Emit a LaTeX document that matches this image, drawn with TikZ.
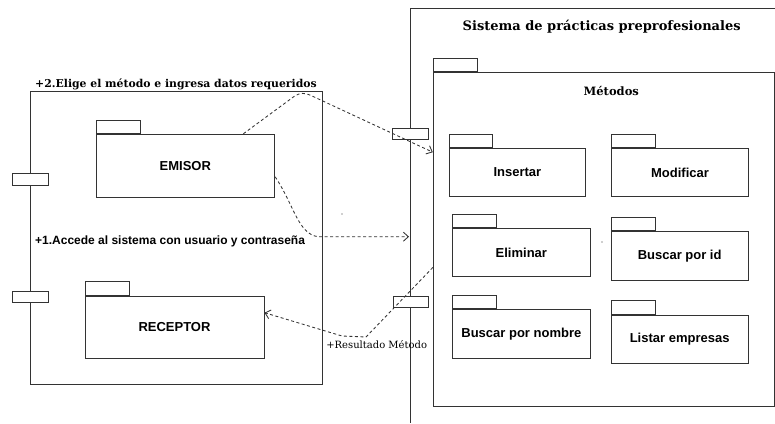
\documentclass[tikz,border=0pt]{standalone}
\usepackage{fontspec}
\setmainfont{Liberation Sans}
\newfontfamily\dserif{DejaVu Serif}
\usetikzlibrary{arrows.meta,calc}
\definecolor{linec}{HTML}{333333}
\tikzset{
  pkgbody/.style={draw=linec, line width=1pt, rectangle, inner sep=0pt, fill=white,
    font=\bfseries\fontsize{13}{15}\selectfont},
  pkgtab/.style={draw=linec, line width=1pt, rectangle, inner sep=0pt, fill=white,
    anchor=south west, minimum width=44pt, minimum height=12.8pt},
  sysbox/.style={draw=linec, line width=1pt, rectangle, inner sep=0pt},
  portbox/.style={draw=linec, line width=1pt, rectangle, inner sep=0pt, fill=white,
    minimum width=36pt, minimum height=11.5pt},
  dep/.style={draw=linec, line width=0.85pt, dash pattern=on 3pt off 2.5pt,
    -{Straight Barb[length=5pt,width=9pt,line width=0.85pt]}},
  serlabel/.style={inner sep=0pt, font=\dserif\bfseries\fontsize{10.85}{12}\selectfont},
  sanslabel/.style={inner sep=0pt, font=\bfseries\fontsize{12}{14}\selectfont},
}
\begin{document}
\begin{tikzpicture}[x=1pt,y=-1pt]
\useasboundingbox (0,0) rectangle (775,423);

% right system frame (cut by the picture edge)
\coordinate (rf1) at (775,8.3);
\coordinate (rf2) at (410,8.3);
\coordinate (rf3) at (410,423);
\draw[draw=linec, line width=1pt] (rf1) -- (rf2) -- (rf3);
\node[inner sep=0pt, font=\dserif\bfseries\fontsize{13}{15}\selectfont] (title) at (601.7,26.7) {Sistema de prácticas preprofesionales};

% left system box
\node[sysbox, minimum width=292pt, minimum height=293pt] (leftsys) at (176,238.2) {};
\node[serlabel, anchor=west] (lbl2) at (35,84.7) {+2.Elige el método e ingresa datos requeridos};
\node[sanslabel, anchor=west] (lbl1) at (35,241) {+1.Accede al sistema con usuario y contraseña};

% ports
\node[portbox] (lp1) at (30,179.3) {};
\node[portbox] (lp2) at (30,297) {};
\node[portbox, minimum width=35.6pt] (rp1) at (410.5,134.2) {};
\node[portbox, minimum width=35.6pt] (rp2) at (410.8,301.8) {};

% EMISOR / RECEPTOR
\node[pkgbody, minimum width=178.7pt, minimum height=62.7pt] (emisor) at (185.35,165.65) {EMISOR};
\node[pkgtab, minimum height=12.6pt] (emisortab) at (emisor.north west) {};
\node[pkgbody, minimum width=179pt, minimum height=62pt] (receptor) at (174.5,327) {RECEPTOR};
\node[pkgtab, minimum width=44.3pt, minimum height=13.7pt] (receptortab) at (receptor.north west) {};

% Metodos package
\node[pkgbody, minimum width=340.7pt, minimum height=334.4pt] (metodos) at (603.65,239.5) {};
\node[pkgtab, minimum height=13pt] (metodostab) at (metodos.north west) {};
\node[inner sep=0pt, font=\dserif\bfseries\fontsize{11.5}{13}\selectfont] (metodostitle) at (611.3,90.7) {Métodos};

\node[pkgbody, minimum width=136.7pt, minimum height=48.4pt] (insertar) at (517.35,172.5) {Insertar};
\node[pkgtab, minimum width=43.7pt, minimum height=12.6pt] (insertartab) at (insertar.north west) {};
\node[pkgbody, minimum width=136.6pt, minimum height=48.4pt] (modificar) at (680,172.5) {Modificar};
\node[pkgtab, minimum width=43.3pt, minimum height=12.6pt] (modificartab) at (modificar.north west) {};
\node[pkgbody, minimum width=137.3pt, minimum height=48.4pt] (eliminar) at (521.35,252.5) {Eliminar};
\node[pkgtab, minimum height=13.3pt] (eliminartab) at (eliminar.north west) {};
\node[pkgbody, minimum width=137.3pt, minimum height=48.3pt] (buscarid) at (679.65,255.85) {Buscar por id};
\node[pkgtab, minimum height=13.3pt] (buscaridtab) at (buscarid.north west) {};
\node[pkgbody, minimum width=137.3pt, minimum height=49pt] (buscarnombre) at (521.35,333.8) {Buscar por nombre};
\node[pkgtab, minimum height=12.6pt] (buscarnombretab) at (buscarnombre.north west) {};
\node[pkgbody, minimum width=137.3pt, minimum height=48.3pt] (listar) at (679.65,339.15) {Listar empresas};
\node[pkgtab, minimum height=13.3pt] (listartab) at (listar.north west) {};

% stray dots
\fill[linec] (342,214) circle (0.7pt);
\fill[linec] (602,242) circle (0.7pt);

% connectors
\draw[dep] ([xshift=58pt]emisor.north) -- (294,96.5) .. controls (300,92.5) and (304,92.5) .. (311,95.5) -- ([yshift=-80.4pt]metodos.north west);
\coordinate (a2) at (409,236.7);
\draw[dep] ([yshift=-11.2pt]emisor.east) .. controls (294,205) and (298,234) .. (318,236.7) -- (a2);
\node[inner sep=0pt, font=\dserif\fontsize{10}{12}\selectfont] (reslbl) at (376.7,344.3) {+Resultado Método};
\draw[dep] ([yshift=-195.7pt]metodos.north west) -- (366,337) -- (342,336) -- ([yshift=14.3pt]receptor.east);
\end{tikzpicture}
\end{document}
